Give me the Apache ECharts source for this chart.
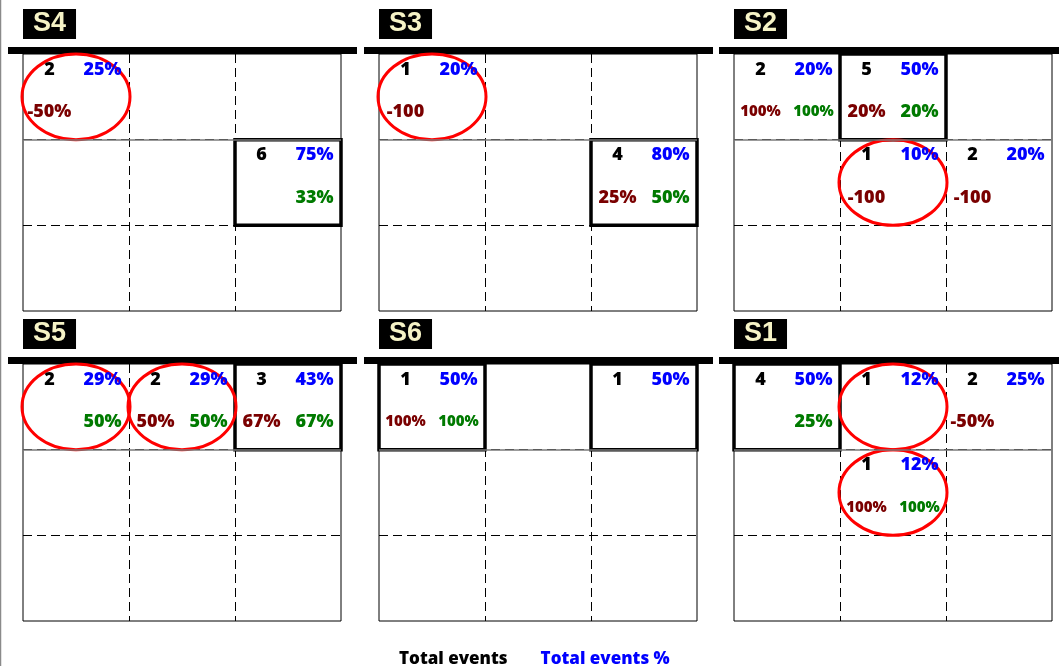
<!DOCTYPE html>
<html><head><meta charset="utf-8">
<script src="https://cdn.jsdelivr.net/npm/echarts@6/dist/echarts.min.js"></script>
<style>html,body{margin:0;padding:0;background:#fff}#c{width:1059px;height:666px}</style>
</head><body><div id="c"></div>
<script>
// ---- data ----
const panelNames = ['S4', 'S3', 'S2', 'S5', 'S6', 'S1'];
const cellPanel      = [0, 0,  1, 1,  2, 2, 2, 2,  3, 3, 3,  4, 4,  5, 5, 5, 5];
const cellCol        = [0, 2,  0, 2,  0, 1, 1, 2,  0, 1, 2,  0, 2,  0, 1, 2, 1];
const cellRow        = [0, 1,  0, 1,  0, 0, 1, 1,  0, 0, 0,  0, 0,  0, 0, 0, 1];
const totalEvents    = [2, 6,  1, 4,  2, 5, 1, 2,  2, 2, 3,  1, 1,  4, 1, 2, 1];
const totalEventsPct = [25, 75, 20, 80, 20, 50, 10, 20, 29, 29, 43, 50, 50, 50, 12, 25, 12];
const redValues   = ['-50%', '',  '-100', '25%',  '100%', '20%', '-100', '-100',  '', '50%', '67%',  '100%', '',  '', '', '-50%', '100%'];
const greenValues = ['', '33%',  '', '50%',  '100%', '20%', '', '',  '50%', '50%', '67%',  '100%', '',  '25%', '', '', '100%'];
const highlighted = [0, 1,  0, 1,  0, 1, 0, 0,  0, 0, 1,  1, 1,  1, 0, 0, 0];
const circled     = [1, 0,  1, 0,  0, 0, 1, 0,  1, 1, 0,  0, 0,  0, 1, 0, 1];

// ---- layout / style ----
const gridLefts = [23, 379, 734];
const gridTops = [54, 364];
const gridW = 318, gridH = 257;
const FONT = 'Open Sans';
const LABEL_SIZE = 18, SMALL_SIZE = 15;
const COLORS = { count: '#000000', pct: '#0000ff', red: '#7a0000', green: '#007a00' };

const grids = [], xAxes = [], yAxes = [], series = [], titles = [], graphics = [];

function axis(i, inverse) {
  return {
    gridIndex: i, type: 'value', min: 0, max: 3, interval: 1, inverse: inverse,
    axisLabel: { show: false }, axisTick: { show: false }, axisLine: { show: false },
    splitLine: { show: true, showMinLine: false, showMaxLine: false,
      lineStyle: { color: '#000', width: 1, type: [9, 5] } }
  };
}

function labelSeries(name, i, color, xOff, yOff, getText) {
  const data = [];
  for (let k = 0; k < cellPanel.length; k++) {
    if (cellPanel[k] !== i) continue;
    const t = getText(k);
    if (t === '') continue;
    const item = { value: [cellCol[k] + xOff, cellRow[k] + yOff, t] };
    if (/^\d{3}%$/.test(t)) item.label = { fontSize: SMALL_SIZE };
    data.push(item);
  }
  return {
    name: name, type: 'scatter', xAxisIndex: i, yAxisIndex: i,
    symbol: 'circle', symbolSize: 0.1, itemStyle: { color: 'transparent' },
    silent: true, animation: false, z: 5,
    emphasis: { disabled: true },
    label: { show: true, position: 'inside', formatter: p => p.value[2], opacity: 1,
      color: color, fontSize: LABEL_SIZE, fontWeight: 800, fontFamily: FONT },
    data: data
  };
}

for (let i = 0; i < 6; i++) {
  const left = gridLefts[i % 3], top = gridTops[Math.floor(i / 3)];
  grids.push({ left: left, top: top, width: gridW, height: gridH,
    show: true, borderColor: '#000', borderWidth: 1, backgroundColor: 'transparent' });
  xAxes.push(axis(i, false));
  yAxes.push(axis(i, true));
  titles.push({ text: panelNames[i], left: left, top: top - 45,
    backgroundColor: '#000', padding: [1, 10, 1, 10],
    textStyle: { color: '#f6f3c6', fontFamily: 'Liberation Sans', fontWeight: 'bold', fontSize: 27, lineHeight: 28 } });
  graphics.push({ type: 'rect', shape: { x: left - 15, y: top - 7, width: 349, height: 7 },
    style: { fill: '#000' }, silent: true });

  const boxData = [], ringData = [];
  for (let k = 0; k < cellPanel.length; k++) {
    if (cellPanel[k] !== i) continue;
    if (highlighted[k]) boxData.push([cellCol[k], cellRow[k]]);
    if (circled[k]) ringData.push([cellCol[k], cellRow[k]]);
  }
  series.push({
    name: 'Highlight', type: 'custom', xAxisIndex: i, yAxisIndex: i, silent: true, animation: false, z: 3,
    encode: { x: 0, y: 1 },
    renderItem: (params, api) => {
      const c = api.value(0), r = api.value(1);
      const p0 = api.coord([c, r]), p1 = api.coord([c + 1, r + 1]);
      return { type: 'rect', shape: { x: Math.min(p0[0], p1[0]), y: Math.min(p0[1], p1[1]),
        width: Math.abs(p1[0] - p0[0]), height: Math.abs(p1[1] - p0[1]) },
        style: { fill: 'none', stroke: '#000', lineWidth: 3.5 } };
    },
    data: boxData,
    markLine: { silent: true, symbol: 'none', animation: false, label: { show: false },
      lineStyle: { color: '#7a7a7a', type: 'solid', width: 1.5 },
      data: [{ yAxis: 1 }] }
  });
  series.push({
    name: 'Flag', type: 'custom', xAxisIndex: i, yAxisIndex: i, silent: true, animation: false, z: 4,
    encode: { x: 0, y: 1 },
    renderItem: (params, api) => {
      const c = api.value(0), r = api.value(1);
      const p0 = api.coord([c, r]), p1 = api.coord([c + 1, r + 1]);
      return { type: 'ellipse', shape: { cx: (p0[0] + p1[0]) / 2, cy: (p0[1] + p1[1]) / 2,
        rx: Math.abs(p1[0] - p0[0]) / 2 + 1, ry: Math.abs(p1[1] - p0[1]) / 2 },
        style: { fill: 'none', stroke: '#ff0000', lineWidth: 3 } };
    },
    data: ringData
  });
  series.push(labelSeries('Total events', i, COLORS.count, 0.25, 0.183, k => String(totalEvents[k])));
  series.push(labelSeries('Total events %', i, COLORS.pct, 0.75, 0.183, k => totalEventsPct[k] + '%'));
  series.push(labelSeries('Change', i, COLORS.red, 0.25, 0.675, k => redValues[k]));
  series.push(labelSeries('Share', i, COLORS.green, 0.75, 0.675, k => greenValues[k]));
}

graphics.push({ type: 'line', shape: { x1: 0.5, y1: 0, x2: 0.5, y2: 666 },
  style: { stroke: '#8a8a8a', lineWidth: 1.5 }, silent: true });

const chart = echarts.init(document.getElementById('c'), null, { renderer: 'canvas' });
chart.setOption({
  animation: false,
  backgroundColor: '#fff',
  title: titles,
  grid: grids, xAxis: xAxes, yAxis: yAxes,
  legend: {
    top: 646, left: 389, icon: 'none', itemWidth: 0, itemHeight: 10, itemGap: 28,
    selectedMode: false,
    textStyle: { fontSize: 17, fontWeight: 800, fontFamily: FONT },
    data: [
      { name: 'Total events', textStyle: { color: '#000' } },
      { name: 'Total events %', textStyle: { color: '#0000ff' } }
    ]
  },
  graphic: graphics,
  series: series
});
</script>
</body></html>
